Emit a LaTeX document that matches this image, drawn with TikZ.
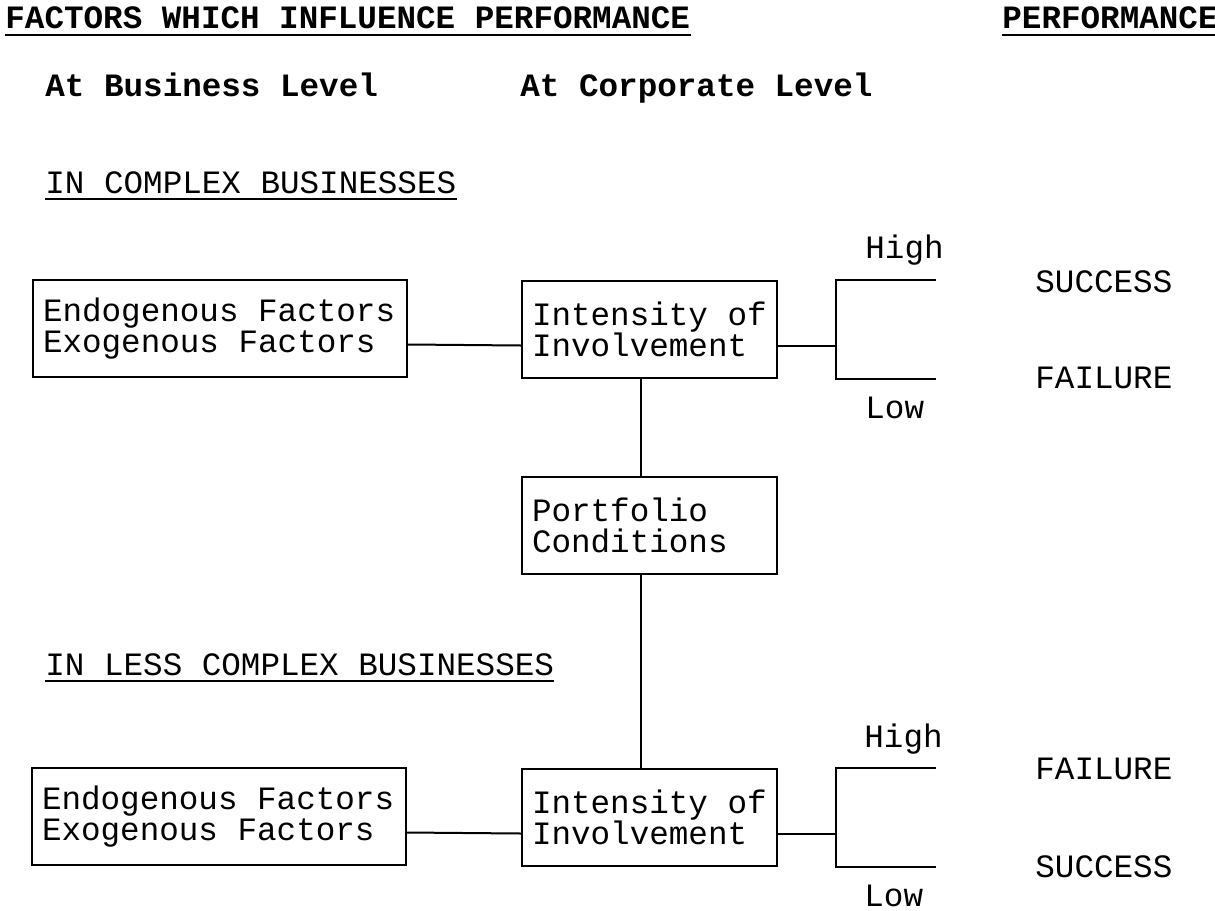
\documentclass[tikz,border=0pt]{standalone}
\usepackage{fontspec}
\setmainfont{Liberation Mono}
\usetikzlibrary{calc}
\newcommand{\txt}{\fontsize{16.3pt}{15.5pt}\selectfont}

\tikzset{
  box/.style={draw, line width=1pt, anchor=north west, align=flush left, inner xsep=5pt, inner ysep=0pt, minimum height=48.5pt, text width=#1, font=\txt},
  lbl/.style={anchor=base west, inner sep=0pt, font=\txt},
  head/.style={lbl, font=\txt\bfseries},
  conn/.style={line width=1pt},
  uline/.style={line width=1pt}
}

\begin{document}
\begin{tikzpicture}[x=0.5pt,y=-0.5pt]
\useasboundingbox (0,0) rectangle (1215,910);
\def\dy{-8pt};
\def\dx{-4.5pt};
% headings
\node[head] (ttl) at (5,28) {FACTORS WHICH INFLUENCE PERFORMANCE};
\node[head] (perf) at (1002,28) {PERFORMANCE};
\draw[uline] ([yshift=-3.5pt]ttl.base west) -- ([yshift=-3.5pt]ttl.base east);
\draw[uline] ([yshift=-3.5pt]perf.base west) -- ([yshift=-3.5pt]perf.base east);
\node[head] (bus) at (45,96) {At Business Level};
\node[head] (corp) at (520,96) {At Corporate Level};
\node[lbl] (cplx) at (45,193) {IN COMPLEX BUSINESSES};
\draw[uline] ([yshift=-3pt]cplx.base west) -- ([yshift=-3pt]cplx.base east);
\node[lbl] (lcplx) at (45,675) {IN LESS COMPLEX BUSINESSES};
\draw[uline] ([yshift=-3pt]lcplx.base west) -- ([yshift=-3pt]lcplx.base east);
% boxes
\node[box=177pt] (a1) at (32,279) {Endogenous Factors\\Exogenous Factors};
\node[box=117.5pt] (i1) at (521,280) {Intensity of\\Involvement};
\node[box=117.5pt] (p) at (521,476) {Portfolio\\Conditions};
\node[box=177pt] (a2) at (31,767) {Endogenous Factors\\Exogenous Factors};
\node[box=117.5pt] (i2) at (521,768) {Intensity of\\Involvement};
% connectors
\draw[conn] ([yshift=\dy]a1.east) -- ([yshift=\dy]i1.west);
\draw[conn] ([yshift=\dy]a2.east) -- ([yshift=\dy]i2.west);
\draw[conn] ([xshift=\dx]i1.south) -- ([xshift=\dx]p.north);
\draw[conn] ([xshift=\dx]p.south) -- ([xshift=\dx]i2.north);
% forks
\coordinate (f1) at ([xshift=29pt,yshift=\dy]i1.east);
\coordinate (h1) at ([xshift=79pt]i1.north east);
\coordinate (l1) at ([xshift=79pt]i1.south east);
\draw[conn] ([yshift=\dy]i1.east) -- (f1);
\draw[conn] (h1) -- (h1 -| f1) -- (l1 -| f1) -- (l1);
\coordinate (f2) at ([xshift=29pt,yshift=\dy]i2.east);
\coordinate (h2) at ([xshift=79pt]i2.north east);
\coordinate (l2) at ([xshift=79pt]i2.south east);
\draw[conn] ([yshift=\dy]i2.east) -- (f2);
\draw[conn] (h2) -- (h2 -| f2) -- (l2 -| f2) -- (l2);
% outcomes
\node[lbl] (hi1) at (865,258) {High};
\node[lbl] (lo1) at (865,418) {Low};
\node[lbl] (s1) at (1035,292) {SUCCESS};
\node[lbl] (x1) at (1035,388) {FAILURE};
\node[lbl] (hi2) at (864,747) {High};
\node[lbl] (lo2) at (864,906) {Low};
\node[lbl] (x2) at (1035,779) {FAILURE};
\node[lbl] (s2) at (1035,877) {SUCCESS};
\end{tikzpicture}
\end{document}
